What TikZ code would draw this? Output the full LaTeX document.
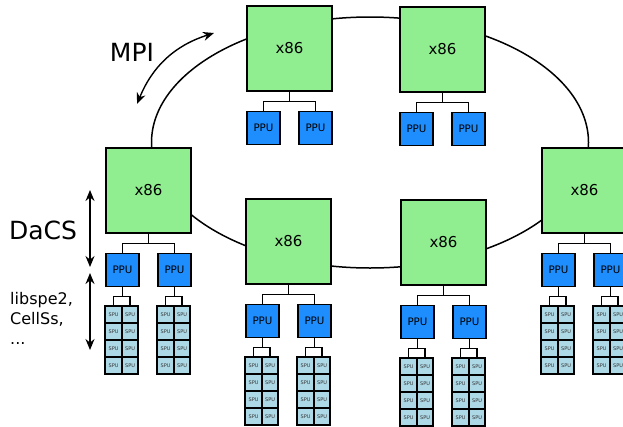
\documentclass[tikz,border=0pt]{standalone}
\usepackage{fontspec}
\setmainfont{DejaVu Sans}
\usepackage{tikz}
\usetikzlibrary{arrows.meta,positioning,calc}

\definecolor{hostgreen}{HTML}{90EE90}
\definecolor{ppublue}{HTML}{1E8EFF}
\definecolor{spublue}{HTML}{ADD8E6}

\tikzset{
  x86box/.style={draw, line width=1.5pt, fill=hostgreen, minimum size=85pt, inner sep=0pt, font=\fontsize{15}{18}\selectfont},
  ppubox/.style={draw, line width=1.5pt, fill=ppublue, minimum size=33pt, inner sep=0pt, font=\fontsize{10.3}{12}\selectfont},
  spubox/.style={draw, line width=2pt, fill=spublue, minimum width=16.5pt, minimum height=17pt, inner sep=0pt, outer sep=0pt, font=\fontsize{5}{6}\selectfont, text=black!80},
  wire/.style={line width=1.5pt},
  layer/.style={line width=1.4pt, {Stealth[length=11pt,width=9pt]}-{Stealth[length=11pt,width=9pt]}},
  biglabel/.style={font=\fontsize{25}{30}\selectfont},
}

% one x86 host with its two PPUs
\newcommand{\host}[3]{%
  \node[x86box] (#1) at (#2,#3) {x86};
  \node[ppubox, below right=19pt and 0pt of #1.south west] (#1a) {PPU};
  \node[ppubox, below left=19pt and 0pt of #1.south east] (#1b) {PPU};
  \draw[wire] (#1.south) -- ++(0,9.5) -| (#1a.north);
  \draw[wire] (#1.south) ++(0,9.5) -| (#1b.north);
}

% the eight SPUs below one PPU
\newcommand{\spugrid}[1]{%
  \node[spubox, below right=18.5pt and 0pt of #1.south west] (#1-1-l) {SPU};
  \node[spubox, right=0pt of #1-1-l] (#1-1-r) {SPU};
  \foreach \r [count=\q] in {2,3,4} {
    \node[spubox, below=0pt of #1-\q-l] (#1-\r-l) {SPU};
    \node[spubox, right=0pt of #1-\r-l] (#1-\r-r) {SPU};
  }
  \draw[wire] (#1.south) -- ++(0,9.25) -| (#1-1-l.north);
  \draw[wire] (#1.south) ++(0,9.25) -| (#1-1-r.north);
}

\begin{document}
\begin{tikzpicture}[x=1pt, y=-1pt]
  \useasboundingbox (0,0) rectangle (623,426);

  % MPI ring behind the hosts
  \draw[wire] (370,142.5) ellipse [x radius=218.5pt, y radius=125.5pt];

  \host{topl}{289.5}{48.5}
  \host{topr}{442.5}{49.5}
  \host{left}{148.5}{190.5}
  \host{right}{584.5}{190.5}
  \host{midl}{288.5}{241.5}
  \host{midr}{443.5}{242.5}

  \spugrid{lefta}
  \spugrid{leftb}
  \spugrid{righta}
  \spugrid{rightb}
  \spugrid{midla}
  \spugrid{midlb}
  \spugrid{midra}
  \spugrid{midrb}

  % labels and layer arrows
  \node[biglabel] (mpi) at (132,52) {MPI};
  \coordinate (mpiA) at (137,104);
  \coordinate (mpiB) at (214,33);
  \draw[layer] (mpiA) to[bend left=25] (mpiB);

  \node[biglabel] (dacs) at (43,230) {DaCS};
  \coordinate (dacsA) at (90,190);
  \coordinate (dacsB) at (90,267);
  \draw[layer] (dacsA) -- (dacsB);

  \node[font=\fontsize{16}{20}\selectfont, align=left, anchor=north west, inner sep=0pt] (libs) at (10,292) {libspe2,\\CellSs,\\...};
  \coordinate (libA) at (90,273);
  \coordinate (libB) at (90,350);
  \draw[layer] (libA) -- (libB);
\end{tikzpicture}
\end{document}
